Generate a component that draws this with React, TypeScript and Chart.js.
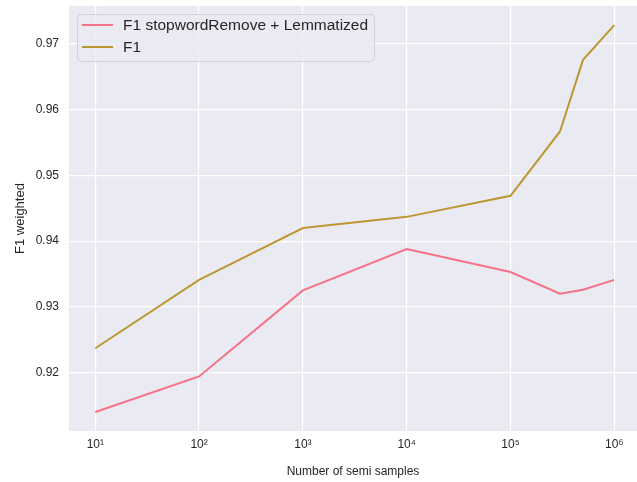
import React, { useEffect, useRef } from "react";
import { Chart, registerables } from "chart.js";

Chart.register(...registerables);

const samples = [10, 100, 1000, 10000, 100000, 300000, 500000, 1000000];
const f1Lemmatized = [0.914, 0.9194, 0.9325, 0.9388, 0.9353, 0.932, 0.9326, 0.9341];
const f1Plain = [0.9237, 0.9341, 0.942, 0.9437, 0.9469, 0.9567, 0.9676, 0.9729];
const seriesLabels = ["F1 stopwordRemove + Lemmatized", "F1"];
const seriesColors = ["#f77189", "#bb9832"];
const xTickValues = [10, 100, 1000, 10000, 100000, 1000000];
const xTickLabels = ["10¹", "10²", "10³", "10⁴", "10⁵", "10⁶"];
const yTickValues = [0.92, 0.93, 0.94, 0.95, 0.96, 0.97];
const yTickLabels = ["0.92", "0.93", "0.94", "0.95", "0.96", "0.97"];

const FONT = "'Liberation Sans', Arial, sans-serif";
const TEXT = "#262626";

const bgPlugin = {
  id: "bgPlugin",
  beforeDraw(chart: any) {
    const { ctx, chartArea } = chart;
    ctx.save();
    ctx.fillStyle = "#eaeaf2";
    ctx.fillRect(chartArea.left, chartArea.top, chartArea.right - chartArea.left, chartArea.bottom - chartArea.top);
    ctx.restore();
  },
};

const legendPlugin = {
  id: "legendPlugin",
  afterDraw(chart: any) {
    const { ctx, chartArea } = chart;
    const x = chartArea.left + 8;
    const y = chartArea.top + 8;
    const w = 297;
    const h = 47;
    ctx.save();
    ctx.beginPath();
    if (ctx.roundRect) ctx.roundRect(x + 0.5, y + 0.5, w, h, 4);
    else ctx.rect(x + 0.5, y + 0.5, w, h);
    ctx.fillStyle = "rgba(234,234,242,0.8)";
    ctx.fill();
    ctx.strokeStyle = "rgba(204,204,204,0.8)";
    ctx.lineWidth = 1;
    ctx.stroke();
    ctx.font = `15.5px ${FONT}`;
    ctx.textBaseline = "middle";
    chart.data.datasets.forEach((ds: any, i: number) => {
      const ly = y + 11 + i * 22;
      ctx.beginPath();
      ctx.strokeStyle = ds.borderColor;
      ctx.lineWidth = 2;
      ctx.moveTo(x + 5, ly);
      ctx.lineTo(x + 36, ly);
      ctx.stroke();
      ctx.fillStyle = TEXT;
      ctx.fillText(ds.label, x + 46, ly + 1);
    });
    ctx.restore();
  },
};

export default function App() {
  const ref = useRef<HTMLCanvasElement>(null);
  useEffect(() => {
    if (!ref.current) return;
    const chart = new Chart(ref.current, {
      type: "line",
      data: {
        datasets: [f1Lemmatized, f1Plain].map((vals, i) => ({
          label: seriesLabels[i],
          data: samples.map((s, j) => ({ x: s, y: vals[j] })),
          borderColor: seriesColors[i],
          backgroundColor: seriesColors[i],
          borderWidth: 2,
          pointRadius: 0,
          tension: 0,
        })),
      },
      options: {
        animation: false,
        responsive: false,
        devicePixelRatio: 1,
        layout: { padding: { top: 6, left: 0, right: 0, bottom: 0 } },
        plugins: { legend: { display: false }, tooltip: { enabled: false } },
        scales: {
          x: {
            type: "logarithmic",
            min: 5.58,
            max: 1.656e6,
            afterBuildTicks: (scale: any) => {
              scale.ticks = xTickValues.map((v) => ({ value: v }));
            },
            afterFit: (scale: any) => {
              scale.height = 51;
              scale.paddingLeft = 0;
              scale.paddingRight = 0;
            },
            ticks: {
              autoSkip: false,
              maxRotation: 0,
              padding: 6,
              color: TEXT,
              font: { family: FONT, size: 12 },
              callback: (v: any) => {
                const idx = xTickValues.indexOf(Number(v));
                return idx >= 0 ? xTickLabels[idx] : "";
              },
            },
            grid: { color: "#ffffff", lineWidth: 1.2, drawTicks: false },
            border: { display: false },
            title: {
              display: true,
              text: "Number of semi samples",
              color: TEXT,
              font: { family: FONT, size: 12 },
              padding: { top: 0, bottom: 3 },
            },
          },
          y: {
            type: "linear",
            min: 0.9111,
            max: 0.9758,
            afterBuildTicks: (scale: any) => {
              scale.ticks = yTickValues.map((v) => ({ value: v }));
            },
            afterFit: (scale: any) => {
              scale.width = 69;
              scale.paddingTop = 0;
              scale.paddingBottom = 0;
            },
            ticks: {
              padding: 10,
              color: TEXT,
              font: { family: FONT, size: 12 },
              callback: (v: any) => {
                const idx = yTickValues.findIndex((t) => Math.abs(t - Number(v)) < 1e-9);
                return idx >= 0 ? yTickLabels[idx] : "";
              },
            },
            grid: { color: "#ffffff", lineWidth: 1.2, drawTicks: false },
            border: { display: false },
            title: {
              display: true,
              text: "F1 weighted",
              color: TEXT,
              font: { family: FONT, size: 13 },
              padding: { top: 13, bottom: 0 },
            },
          },
        },
      },
      plugins: [bgPlugin, legendPlugin],
    } as any);
    return () => chart.destroy();
  }, []);
  return (
    <div style={{ position: "fixed", left: 0, top: 0, width: 637, height: 482, background: "#fff" }}>
      <canvas ref={ref} width={637} height={482} style={{ display: "block" }} />
    </div>
  );
}
